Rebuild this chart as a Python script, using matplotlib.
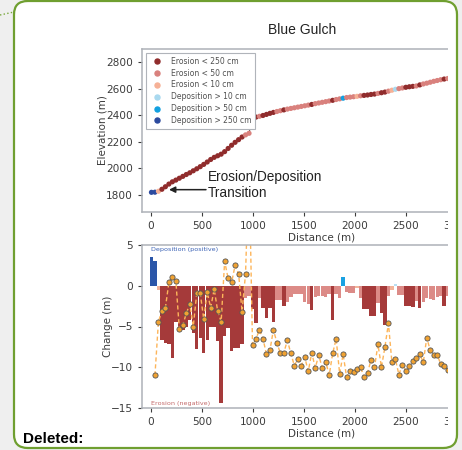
import numpy as np
import matplotlib
matplotlib.use("Agg")
import matplotlib.pyplot as plt
from matplotlib.patches import FancyBboxPatch, Rectangle
from matplotlib.lines import Line2D

W, H = 462, 450

# cross sections along the gulch
spacing = 34.2   # m between sections
start = 4.8      # m, first section

# elevation of each section (m)
elevation = [1820, 1821, 1828, 1843, 1862, 1882, 1899, 1912, 1926, 1940,
             1954, 1967, 1982, 1997, 2013, 2030, 2048, 2067, 2083, 2095,
             2107, 2126, 2150, 2174, 2196, 2216, 2236, 2252, 2264, 2380,
             2386, 2392, 2398, 2406, 2414, 2421, 2428, 2434, 2440, 2446,
             2451, 2456, 2461, 2466, 2471, 2476, 2481, 2487, 2492, 2497,
             2502, 2507, 2512, 2518, 2523, 2528, 2533, 2536, 2539, 2542,
             2546, 2549, 2552, 2556, 2559, 2564, 2569, 2574, 2581, 2588,
             2595, 2600, 2605, 2610, 2614, 2617, 2620, 2628, 2635, 2641,
             2648, 2655, 2661, 2667, 2672, 2676]

# change per section (m), bars
bar_change = [3.5, 3.0, -0.5, -6.6, -7.0, -7.1, -8.9, -4.4, -5.6, -5.4,
              -5.0, -4.2, -5.8, -7.7, -6.4, -8.3, -6.6, -5.0, -5.0, -6.8,
              -14.4, -6.2, -5.2, -8.0, -7.6, -7.6, -7.2, -1.5, -1.3, -2.9,
              -4.6, -1.5, -2.7, -4.0, -2.7, -4.4, -1.8, -1.8, -2.5, -2.0,
              -1.4, -1.0, -1.0, -1.0, -2.0, -2.2, -3.0, -1.4, -1.2, -1.3,
              -1.4, -1.0, -4.2, -1.0, -1.5, 1.1, -0.8, -0.9, -0.9, -0.3,
              -1.5, -2.9, -2.9, -3.7, -3.7, -2.1, -3.3, -4.8, -1.3, -0.5,
              0.2, -1.1, -1.1, -2.5, -2.5, -2.6, -1.9, -2.7, -2.0, -1.5,
              -1.6, -1.8, -1.4, -1.3, -2.5, -1.2]

# second change estimate (orange points), sections 1..85
point_change = [-11.0, -4.4, -3.1, -2.7, 0.4, 1.1, 0.6, -5.3, -4.8, -3.4,
                -2.2, -5.0, -0.9, -0.9, -4.1, -0.8, -2.7, -0.4, -3.1, -4.4,
                3.0, 0.9, 0.4, 2.5, 1.5, -3.2, 1.5, 15.0, -7.3, -6.5,
                -5.4, -6.5, -8.4, -7.9, -5.4, -7.0, -8.3, -8.2, -6.7, -8.3,
                -9.8, -9.0, -9.8, -8.8, -10.5, -8.2, -10.1, -8.5, -10.1, -9.3,
                -11.0, -8.3, -6.5, -10.8, -8.4, -11.2, -10.5, -10.6, -10.2, -10.0,
                -11.2, -10.7, -9.1, -10.0, -7.2, -10.0, -7.5, -4.6, -9.4, -9.0,
                -10.9, -9.7, -10.4, -9.9, -9.2, -8.9, -8.4, -9.4, -6.4, -7.9,
                -8.5, -8.5, -9.6, -9.8, -10.3]

classes = ["Erosion < 250 cm", "Erosion < 50 cm", "Erosion < 10 cm",
           "Deposition > 10 cm", "Deposition > 50 cm", "Deposition > 250 cm"]
dot_colors = ["#902c2c", "#d9817d", "#f6b196", "#a9d9ef", "#12a0e0", "#2c4a9e"]
bar_colors = ["#a53a3a", "#dc8b87", "#f2b49a", "#b8e0f4", "#1aa1e2", "#2b56a8"]


def classify(v):
    if v > 2.5:
        return 5
    if v > 0.5:
        return 4
    if v > 0:
        return 3
    if v > -0.6:
        return 2
    if v > -2.4:
        return 1
    return 0


dist = start + spacing * np.arange(len(elevation))
cls = [classify(v) for v in bar_change]

fig = plt.figure(figsize=(W / 100, H / 100), dpi=100)
fig.patch.set_facecolor("#efefef")


def fx(px):
    return px / W


def fy(py):
    return 1 - py / H


# document frame
page = FancyBboxPatch((fx(14), fy(448)), fx(457) - fx(14), fy(1) - fy(448),
                      boxstyle="round,pad=0,rounding_size=0.03",
                      facecolor="white", edgecolor="none", zorder=-5)
fig.add_artist(page)

tick_kw = dict(labelsize=7.6, colors="#3c3c3c", length=3, width=0.8)
spine_col = "#aeb2b8"

# elevation profile
ax1 = fig.add_axes([fx(142), fy(212), fx(502) - fx(142), fy(49) - fy(212)])
ax1.plot(dist, elevation, color="#444444", lw=0.7, zorder=1)
ax1.scatter(dist, elevation, c=[dot_colors[c] for c in cls], s=14,
            linewidths=0, zorder=2)
ax1.set_xlim(-88, 3445)
ax1.set_ylim(1672, 2898)
ax1.set_xticks(np.arange(0, 3001, 500))
ax1.set_yticks(np.arange(1800, 2801, 200))
ax1.set_xlabel("Distance (m)", fontsize=7.5, color="#3c3c3c", labelpad=1)
ax1.set_ylabel("Elevation (m)", fontsize=7.5, color="#3c3c3c", labelpad=-1)
handles = [Line2D([], [], marker="o", ls="none", color=c, markersize=3.6)
           for c in dot_colors]
leg = ax1.legend(handles, classes, loc="upper left", fontsize=5.5,
                 labelspacing=0.38, handletextpad=0.8, borderpad=0.5,
                 framealpha=1, edgecolor="#b0b4ba", fancybox=False)
for t in leg.get_texts():
    t.set_color("#505050")
leg.get_frame().set_linewidth(0.8)
ax1.text(559, 1991, "Erosion/Deposition\nTransition", fontsize=9.8,
         family="Liberation Sans", color="#222222", va="top", ha="left")
ax1.annotate("", xy=(177, 1840), xytext=(540, 1840),
             arrowprops=dict(arrowstyle="-|>", color="#222222", lw=1.1,
                             mutation_scale=9, shrinkA=0, shrinkB=0))

# change per section
ax2 = fig.add_axes([fx(142), fy(408), fx(502) - fx(142), fy(245) - fy(408)])
ax2.bar(dist, bar_change, width=spacing * 0.97,
        color=[bar_colors[c] for c in cls], linewidth=0, zorder=1)
ax2.plot(dist[1:], point_change, ls=(0, (3, 2)), color="#fdb55a", lw=1.0,
         zorder=2)
ax2.scatter(dist[1:], point_change, s=14, color="#f0a232",
            edgecolors="#555555", linewidths=0.6, zorder=3)
ax2.set_xlim(-88, 3445)
ax2.set_ylim(-15, 5)
ax2.set_xticks(np.arange(0, 3001, 500))
ax2.set_yticks([-15, -10, -5, 0, 5])
ax2.set_xlabel("Distance (m)", fontsize=7.5, color="#3c3c3c", labelpad=1)
ax2.set_ylabel("Change (m)", fontsize=7.5, color="#3c3c3c", labelpad=-1.5)
ax2.text(0, 4.4, "Deposition (positive)", fontsize=4.6, color="#3b62b5",
         va="center", ha="left")
ax2.text(0, -14.45, "Erosion (negative)", fontsize=4.6, color="#c46a6a",
         va="center", ha="left")

for ax in (ax1, ax2):
    ax.tick_params(**tick_kw)
    for s in ax.spines.values():
        s.set_color(spine_col)
        s.set_linewidth(1.1)

# the screenshot cuts the figure on the right
fig.add_artist(Rectangle((fx(448), fy(440)), fx(458) - fx(448), fy(20) - fy(440),
                         facecolor="white", edgecolor="none", zorder=5))
fig.add_artist(Rectangle((fx(457.5), 0), 1 - fx(457.5), 1,
                         facecolor="#efefef", edgecolor="none", zorder=6))
border = FancyBboxPatch((fx(14), fy(448)), fx(457) - fx(14), fy(1) - fy(448),
                        boxstyle="round,pad=0,rounding_size=0.03",
                        facecolor="none", edgecolor="#6f9f30", lw=1.6, zorder=7)
fig.add_artist(border)
fig.add_artist(Line2D([fx(0), fx(14)], [fy(15), fy(12)], ls=":",
                      color="#79a83c", lw=1.0, zorder=7))

fig.text(fx(302), fy(30), "Blue Gulch", fontsize=10, family="Liberation Sans",
         color="#222222", ha="center", va="center")
fig.text(fx(23), fy(443), "Deleted:", fontsize=11, fontweight="bold",
         family="Liberation Sans", color="black", ha="left", va="baseline")

fig.savefig("out.png", dpi=100, facecolor=fig.get_facecolor())
